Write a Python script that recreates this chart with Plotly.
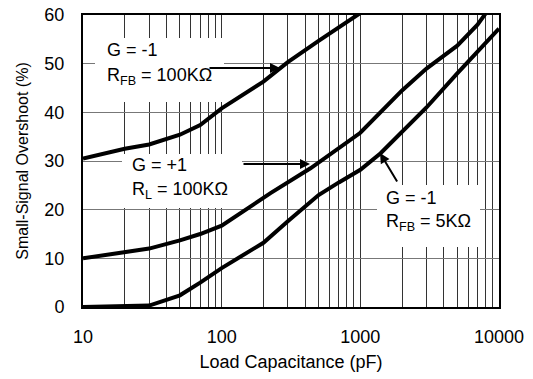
import plotly.graph_objects as go

# Load capacitance (pF) and small-signal overshoot (%) for each configuration
cap_fb100k = [10, 20, 30, 50, 70, 100, 200, 300, 500, 700, 1000]
os_fb100k = [30.5, 32.5, 33.4, 35.4, 37.4, 40.8, 46.3, 50.3, 54.7, 57.5, 60.4]

cap_rl100k = [10, 20, 30, 50, 70, 100, 225, 437, 1000, 2000, 3000, 5000, 7000, 8000]
os_rl100k = [10.0, 11.3, 12.0, 13.7, 15.0, 16.7, 23.4, 28.5, 35.8, 44.5, 49.0, 53.7, 58.0, 60.3]

cap_fb5k = [10, 20, 30, 50, 70, 100, 200, 300, 500, 700, 1000, 1400, 2000, 3000, 5000, 7000, 10000]
os_fb5k = [0.0, 0.1, 0.3, 2.4, 5.0, 8.0, 13.2, 17.6, 23.0, 25.6, 28.2, 31.6, 35.9, 41.0, 48.0, 52.5, 57.2]

x_ticks = [10, 100, 1000, 10000]
x_ticktext = ["10", "100", "1000", "10000"]
x_minor = [m * 10 ** d for d in range(1, 4) for m in range(2, 10)]

FONT = "Liberation Sans, Arial, sans-serif"
W, H = 533, 379
ML, MR, MT, MB = 83, 34, 15, 72
PW, PH = W - ML - MR, H - MT - MB


def px(x):
    return (x - ML) / PW


def py(y):
    return (H - MB - y) / PH


fig = go.Figure()
for cx, oy in [(cap_fb100k, os_fb100k), (cap_rl100k, os_rl100k), (cap_fb5k, os_fb5k)]:
    fig.add_trace(go.Scatter(x=cx, y=oy, mode="lines",
                             line=dict(color="black", width=4),
                             showlegend=False, hoverinfo="skip"))

annotations = []

# white panels that mask the grid behind each curve label
boxes = [(95, 38, 224, 102), (122, 154, 242, 208), (377, 185, 480, 247)]
for x0, y0, x1, y1 in boxes:
    annotations.append(dict(text="&nbsp;", xref="paper", yref="paper",
                            x=px(x0), y=py(y0), xanchor="left", yanchor="top",
                            width=x1 - x0, height=y1 - y0, bgcolor="white",
                            borderpad=0, borderwidth=0, showarrow=False,
                            font=dict(size=2)))

labels = [
    (105, 50, "G = -1"), (105, 77, "R<sub>FB</sub> = 100KΩ"),
    (130, 165, "G = +1"), (130, 190, "R<sub>L</sub> = 100KΩ"),
    (384, 198, "G = -1"), (384, 222, "R<sub>FB</sub> = 5KΩ"),
]
for x, y, t in labels:
    annotations.append(dict(text=t, xref="paper", yref="paper", x=px(x), y=py(y),
                            xanchor="left", yanchor="middle", showarrow=False,
                            font=dict(family=FONT, size=18, color="black")))

arrows = [((280, 68), (-72, 0)), ((310, 164), (-68, 0)), ((380, 153), (18, 30))]
for (tx, ty), (dx, dy) in arrows:
    annotations.append(dict(text="", xref="paper", yref="paper", x=px(tx), y=py(ty),
                            ax=dx, ay=dy, showarrow=True, arrowhead=2,
                            arrowsize=1, arrowwidth=2, arrowcolor="black",
                            standoff=0, startstandoff=0))

fig.update_layout(
    width=W, height=H,
    margin=dict(l=ML, r=MR, t=MT, b=MB),
    paper_bgcolor="white", plot_bgcolor="white",
    font=dict(family=FONT, size=18, color="black"),
    annotations=annotations,
)
fig.update_xaxes(
    type="log", range=[1, 4],
    tickvals=x_ticks, ticktext=x_ticktext,
    ticks="", ticklabelstandoff=12, automargin=False,
    tickfont=dict(size=18),
    showgrid=True, gridcolor="#333", gridwidth=1,
    minor=dict(tickvals=x_minor, showgrid=True, gridcolor="#333", gridwidth=1, ticks=""),
    showline=True, linecolor="black", linewidth=2, mirror=True,
    title=dict(text="Load Capacitance (pF)", standoff=10, font=dict(size=18)),
    zeroline=False,
)
fig.update_yaxes(
    range=[0, 60], dtick=10,
    ticks="", ticklabelstandoff=13, automargin=False,
    tickfont=dict(size=18),
    showgrid=True, gridcolor="#777", gridwidth=1,
    showline=True, linecolor="black", linewidth=2, mirror=True,
    title=dict(text="Small-Signal Overshoot (%)", standoff=12, font=dict(size=16)),
    zeroline=False,
)

fig.write_html("out.html")
